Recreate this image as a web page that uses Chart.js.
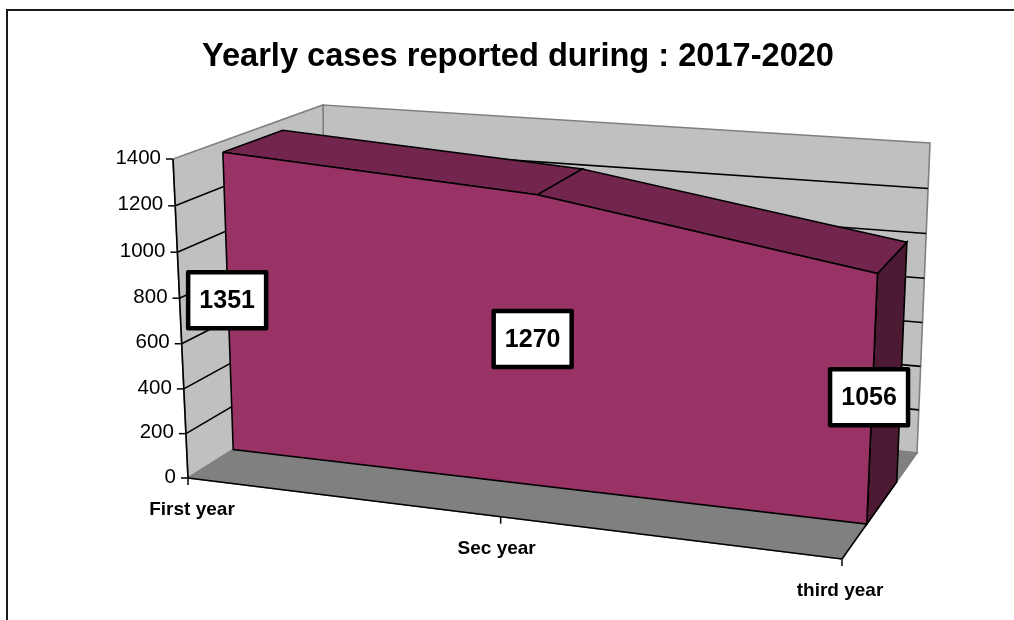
<!DOCTYPE html>
<html>
<head>
<meta charset="utf-8">
<script src="https://cdn.jsdelivr.net/npm/chart.js@4/dist/chart.umd.min.js"></script>
<style>
  html, body { margin: 0; background: #fff; }
  canvas { display: block; }
</style>
</head>
<body>
<canvas id="myChart" width="1014" height="620"></canvas>
<script>
const years = ["First year", "Sec year", "third year"];
const cases = [1351, 1270, 1056];
const valueTicks = [200, 400, 600, 800, 1000, 1200];
const maxValue = 1400;

// corners of the 3d box on screen: front and back plane
const box = {
  front: { bl: [188, 478], br: [842, 559], tl: [173, 159], tr: [857, 212] },
  back: { bl: [325, 392], br: [917, 453], tl: [323, 105], tr: [930, 143] },
};
const areaFront = 0.33; // depth where the area starts
const areaBack = 0.73; // and ends
const perspectiveX = 0.916;
const perspectiveY = 0.969;

function mix(a, b, t) {
  return [a[0] + (b[0] - a[0]) * t, a[1] + (b[1] - a[1]) * t];
}

function warp(t, k) {
  return (k * t) / (k * t + 1 - t);
}

// scale pixel -> point on the skewed box
function project(chart, px, py, z) {
  const xs = chart.scales.x;
  const ys = chart.scales.y;
  const u = warp((px - xs.left) / xs.width, perspectiveX);
  const v = warp((ys.bottom - py) / ys.height, perspectiveY);
  const plane = (c) => mix(mix(c.bl, c.br, u), mix(c.tl, c.tr, u), v);
  return mix(plane(box.front), plane(box.back), z);
}

function pt(i, value, z) {
  return { x: years[i], y: value, z: z };
}

function face(points, color, border) {
  return {
    data: points.concat(points[0]),
    fill: "shape",
    clip: false,
    backgroundColor: color,
    borderColor: border,
    borderWidth: 1.6,
    pointRadius: 0,
  };
}

function edge(points, color) {
  return {
    data: points,
    fill: false,
    clip: false,
    borderColor: color,
    borderWidth: 1.6,
    pointRadius: 0,
  };
}

const last = years.length - 1;
const layers = [];

// walls and floor
layers.push(face([pt(0, 0, 1), pt(last, 0, 1), pt(last, maxValue, 1), pt(0, maxValue, 1)], "#c0c0c0", "#808080"));
layers.push(face([pt(0, 0, 0), pt(0, 0, 1), pt(0, maxValue, 1), pt(0, maxValue, 0)], "#c0c0c0", "#808080"));
layers.push(face([pt(0, 0, 0), pt(last, 0, 0), pt(last, 0, 1), pt(0, 0, 1)], "#808080", "#808080"));

// gridlines, left wall then back wall
valueTicks.forEach(function (t) {
  layers.push(edge([pt(0, t, 0), pt(0, t, 1), pt(last, t, 1)], "#000"));
});

// axis lines
layers.push(edge([pt(0, 0, 0), pt(0, maxValue, 0)], "#000"));
layers.push(edge([pt(0, 0, 0), pt(last, 0, 0), pt(last, 0, areaBack)], "#000"));

// the area itself
layers.push(face([pt(last, cases[last], areaFront), pt(last, cases[last], areaBack), pt(last, 0, areaBack), pt(last, 0, areaFront)], "#4d1a33", "#000"));
for (let i = 0; i < last; i++) {
  layers.push(face([pt(i, cases[i], areaFront), pt(i + 1, cases[i + 1], areaFront), pt(i + 1, cases[i + 1], areaBack), pt(i, cases[i], areaBack)], "#73264d", "#000"));
}
layers.push(face(
  cases.map((c, i) => pt(i, c, areaFront)).concat([pt(last, 0, areaFront), pt(0, 0, areaFront)]),
  "#993366", "#000"
));

// chart.js draws higher order first
layers.forEach((d, i) => { d.order = layers.length - i; });

const labelShift = [4, -4, -2];
const boxShift = [-1, -4, -3];

const skewPlugin = {
  id: "skew",
  beforeDatasetsUpdate(chart) {
    // several points share an x, chart.js would skip some of them as "sorted"
    chart.data.datasets.forEach(function (ds, n) {
      chart.getDatasetMeta(n)._sorted = false;
    });
  },
  afterDatasetsUpdate(chart) {
    chart.data.datasets.forEach(function (ds, n) {
      chart.getDatasetMeta(n).data.forEach(function (p, i) {
        const s = project(chart, p.x, p.y, ds.data[i].z);
        p.x = s[0];
        p.y = s[1];
      });
    });

    const xs = chart.scales.x;
    const ys = chart.scales.y;
    const area = chart.chartArea;

    // move the real axis ticks and labels on to the slanted edges
    ys.getLabelItems(area).forEach(function (item, i) {
      const s = project(chart, xs.left, ys.getPixelForTick(i), 0);
      item.options.translation = [s[0] - 12, s[1] - 1];
      item.options.textAlign = "right";
    });
    ys._gridLineItems = ys._computeGridLineItems(area);
    ys._gridLineItems.forEach(function (item, i) {
      const s = project(chart, xs.left, ys.getPixelForTick(i), 0);
      item.tx1 = s[0] - 7; item.tx2 = s[0];
      item.ty1 = s[1]; item.ty2 = s[1];
    });
    xs.getLabelItems(area).forEach(function (item, i) {
      const s = project(chart, xs.getPixelForTick(i), ys.bottom, 0);
      item.options.translation = [s[0] + labelShift[i], s[1] + 32];
      item.options.textAlign = "center";
      item.options.textBaseline = "middle";
      item.textOffset = 0;
    });
    xs._gridLineItems = xs._computeGridLineItems(area);
    xs._gridLineItems.forEach(function (item, i) {
      const s = project(chart, xs.getPixelForTick(i), ys.bottom, 0);
      item.tx1 = s[0]; item.tx2 = s[0];
      item.ty1 = s[1]; item.ty2 = s[1] + 7;
    });
  },
  // the filler clips to chartArea, but the box goes outside it
  beforeDatasetsDraw(chart) {
    chart._realArea = chart.chartArea;
    chart.chartArea = { left: 0, top: 0, right: chart.width, bottom: chart.height, width: chart.width, height: chart.height };
  },
  afterDatasetsDraw(chart) {
    chart.chartArea = chart._realArea;
  },
  beforeDraw(chart) {
    // frame, only left and top are inside the picture
    const ctx = chart.ctx;
    ctx.save();
    ctx.strokeStyle = "#1a1a1a";
    ctx.lineWidth = 2;
    ctx.beginPath();
    ctx.moveTo(7, chart.height);
    ctx.lineTo(7, 10);
    ctx.lineTo(chart.width, 10);
    ctx.stroke();
    ctx.restore();
  },
  afterDraw(chart) {
    // data labels, halfway up the front of the area
    const ctx = chart.ctx;
    const xs = chart.scales.x;
    const ys = chart.scales.y;
    ctx.save();
    ctx.font = "bold 25px 'Liberation Sans'";
    ctx.textAlign = "center";
    ctx.textBaseline = "middle";
    ctx.lineJoin = "round";
    cases.forEach(function (c, i) {
      const s = project(chart, xs.getPixelForValue(i), ys.getPixelForValue(c / 2), areaFront);
      const cx = s[0] + boxShift[i];
      const cy = s[1] - 3;
      ctx.fillStyle = "#fff";
      ctx.strokeStyle = "#000";
      ctx.lineWidth = 4.5;
      ctx.fillRect(cx - 39, cy - 28, 78, 56);
      ctx.strokeRect(cx - 39, cy - 28, 78, 56);
      ctx.fillStyle = "#000";
      ctx.fillText(String(c), cx, cy + 1);
    });
    ctx.restore();
  },
};

new Chart(document.getElementById("myChart"), {
  type: "line",
  plugins: [skewPlugin],
  data: { labels: years, datasets: layers },
  options: {
    responsive: false,
    animation: false,
    layout: { padding: { left: 22, bottom: 12 } },
    elements: { line: { tension: 0 } },
    plugins: {
      legend: { display: false },
      tooltip: { enabled: false },
      title: {
        display: true,
        text: "Yearly cases reported during : 2017-2020",
        color: "#000",
        font: { family: "'Liberation Sans'", size: 32.6, weight: "bold" },
        padding: { top: 37, bottom: 86 },
      },
    },
    scales: {
      x: {
        type: "category",
        afterFit: (s) => { s.height = 130; },
        border: { display: false },
        grid: { drawOnChartArea: false, tickColor: "#000", tickLength: 7, tickWidth: 1.5 },
        ticks: {
          color: "#000",
          autoSkip: false,
          maxRotation: 0,
          font: { family: "'Liberation Sans'", size: 19, weight: "bold" },
        },
      },
      y: {
        min: 0,
        max: maxValue,
        afterFit: (s) => { s.width = 166; },
        border: { display: false },
        grid: { drawOnChartArea: false, tickColor: "#000", tickLength: 7, tickWidth: 1.5 },
        ticks: {
          stepSize: 200,
          color: "#000",
          callback: (v) => String(v),
          font: { family: "'Liberation Sans'", size: 20.5 },
        },
      },
    },
  },
});
</script>
</body>
</html>
